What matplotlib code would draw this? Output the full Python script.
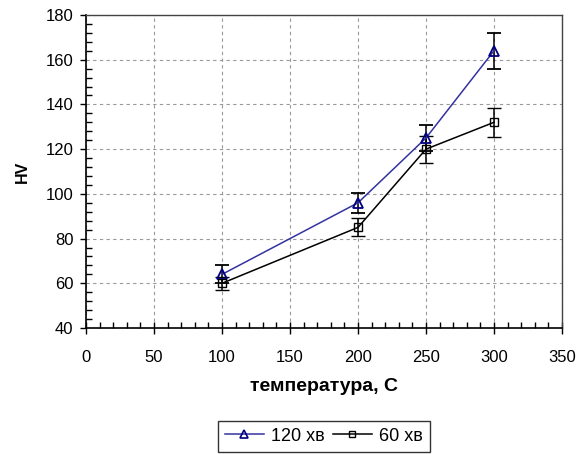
import matplotlib
matplotlib.use("Agg")
import matplotlib.pyplot as plt
from matplotlib.lines import Line2D
from matplotlib.ticker import MultipleLocator

plt.rcParams['font.family'] = ['Liberation Sans', 'DejaVu Sans']

# температура, C
temp = [100, 200, 250, 300]

# 120 хв
hv_120 = [64, 96, 125, 164]
err_120 = [4, 4.5, 6, 8]

# 60 хв
hv_60 = [60, 85, 120, 132]
err_60 = [3, 4, 6, 6.5]

blue_line = '#3333a0'
blue_mark = '#000080'

fig = plt.figure(figsize=(5.86, 4.54), dpi=100)
ax = fig.add_axes([0.1468, 0.2775, 0.8122, 0.6895])

ax.errorbar(temp, hv_120, yerr=err_120, color=blue_line, lw=1.1,
            marker='^', ms=7.5, mfc='none', mec=blue_mark, mew=1.3,
            ecolor='black', elinewidth=1.1, capsize=5, capthick=1.1, zorder=3)
ax.errorbar(temp, hv_60, yerr=err_60, color='black', lw=1.1,
            marker='s', ms=6, mfc='none', mec='black', mew=1.0,
            ecolor='black', elinewidth=1.1, capsize=5, capthick=1.1, zorder=3)

ax.set_xlim(0, 350)
ax.set_ylim(40, 180)
ax.xaxis.set_major_locator(MultipleLocator(50))
ax.xaxis.set_minor_locator(MultipleLocator(10))
ax.yaxis.set_major_locator(MultipleLocator(20))
ax.yaxis.set_minor_locator(MultipleLocator(4))

ax.grid(True, which='major', ls=(0, (3, 3)), color='#999999', lw=0.8)
ax.tick_params(axis='x', which='major', direction='inout', length=8, width=1, labelsize=12, pad=12)
ax.tick_params(axis='y', which='major', direction='out', length=4, width=1, labelsize=12, pad=5)
ax.tick_params(which='minor', direction='in', length=4, width=1)

for side in ['left', 'bottom']:
    ax.spines[side].set_color('black')
    ax.spines[side].set_linewidth(1.2)
for side in ['top', 'right']:
    ax.spines[side].set_color('#444444')
    ax.spines[side].set_linewidth(1.0)

ax.set_xlabel('температура, С', fontsize=14, fontweight='bold', labelpad=9)
ax.set_ylabel('HV', fontsize=11.5, fontweight='bold', labelpad=11)

# легенда без планок похибок
handles = [
    Line2D([], [], color=blue_line, lw=1.1, marker='^', ms=6, mfc='none', mec=blue_mark, mew=1.2),
    Line2D([], [], color='black', lw=1.1, marker='s', ms=5, mfc='none', mec='black', mew=1.0),
]
leg = fig.legend(handles, ['120 хв', '60 хв'], loc='upper center',
                 bbox_to_anchor=(0.5529, 1 - 420.5 / 454), ncol=2,
                 fontsize=13, frameon=True, fancybox=False, edgecolor='black',
                 handlelength=2.15, handletextpad=0.4, columnspacing=0.45,
                 borderpad=0.4, borderaxespad=0)
leg.get_frame().set_linewidth(1.0)

fig.savefig('out.png', dpi=100)
